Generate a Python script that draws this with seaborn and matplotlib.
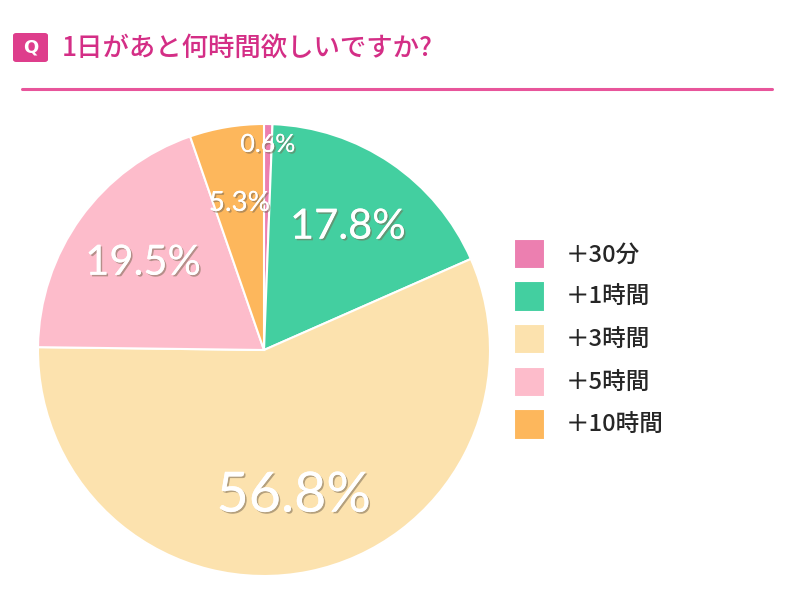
import numpy as np
import seaborn as sns
import matplotlib.pyplot as plt
import matplotlib.patheffects as pe
from matplotlib.patches import FancyBboxPatch
from matplotlib.lines import Line2D

# data
categories = ['＋30分', '＋1時間', '＋3時間', '＋5時間', '＋10時間']
shares = [0.6, 17.8, 56.8, 19.5, 5.3]
colors = ['#EC7FB0', '#43CFA0', '#FCE2AE', '#FDBCCB', '#FDB75C']
label_sizes = [18, 30, 40, 30, 20]
title = '1日があと何時間欲しいですか?'

sns.set_theme(style='white')
plt.rcParams['font.family'] = ['Noto Sans CJK JP', 'DejaVu Sans']

fig = plt.figure(figsize=(8, 6.09), dpi=100)
fig.patch.set_facecolor('white')

# header
qbox = FancyBboxPatch((13 / 800, 1 - 62 / 609), 35 / 800, 29 / 609,
                      boxstyle='round,pad=0,rounding_size=0.004',
                      transform=fig.transFigure,
                      facecolor='#DE3E8C', edgecolor='none')
fig.patches.append(qbox)
fig.text(30.5 / 800, 1 - 47.5 / 609, 'Q', color='white', fontsize=13,
         fontweight='bold', ha='center', va='center', family=['DejaVu Sans'])
fig.text(62 / 800, 1 - 48 / 609, title, color='#D42E86', fontsize=19,
         fontweight='medium', ha='left', va='center')
fig.lines.append(Line2D([22 / 800, 772 / 800], [1 - 89 / 609, 1 - 89 / 609],
                        transform=fig.transFigure, color='#E8559B', lw=2.2))

# pie
r_px = 226
ax = fig.add_axes([(264 - r_px) / 800, (259 - r_px) / 609,
                   2 * r_px / 800, 2 * r_px / 609])
wedges, texts, autotexts = ax.pie(
    shares, colors=colors, startangle=90, counterclock=False,
    autopct='%1.1f%%', pctdistance=0.66,
    wedgeprops=dict(edgecolor='white', linewidth=1.5))
ax.set_xlim(-1, 1)
ax.set_ylim(-1, 1)
ax.set_aspect('equal')
ax.axis('off')

shadow = [pe.withSimplePatchShadow(offset=(1.2, -1.2), shadow_rgbFace='#7a6a55',
                                   alpha=0.55), pe.Normal()]
for i, (w, t) in enumerate(zip(wedges, autotexts)):
    t.set_color('white')
    t.set_fontsize(label_sizes[i])
    t.set_family(['Lato', 'DejaVu Sans'])
    t.set_path_effects(shadow)
    if shares[i] < 1:
        ang = np.deg2rad((w.theta1 + w.theta2) / 2)
        t.set_position((0.92 * np.cos(ang), 0.93 * np.sin(ang) - 0.02))

fig.legend(wedges, categories, loc='upper left',
           bbox_to_anchor=(502 / 800, 1 - 227 / 609), frameon=False,
           prop=dict(size=17, weight='medium'), handlelength=1.3,
           handleheight=1.6, handletextpad=0.9, labelspacing=0.52,
           borderpad=0)

fig.savefig('out.png', dpi=100)
